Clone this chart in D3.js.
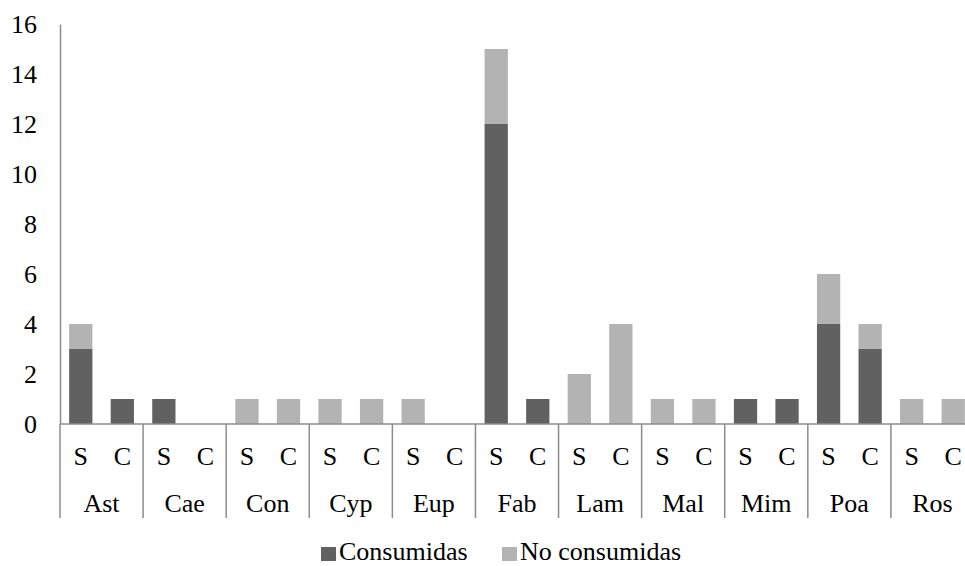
<!DOCTYPE html>
<html><head><meta charset="utf-8">
<script src="https://cdn.jsdelivr.net/npm/d3@7"></script>
<style>body{margin:0;background:#fff}svg{display:block}</style>
</head><body><svg id="c" width="965" height="566"></svg>
<script>
const families = ["Ast","Cae","Con","Cyp","Eup","Fab","Lam","Mal","Mim","Poa","Ros"];
const subs = ["S","C"];
const consumidasS = [3,1,0,0,0,12,0,0,1,4,0];
const consumidasC = [1,0,0,0,0,1,0,0,1,3,0];
const noConsumidasS = [1,0,1,1,1,3,2,1,0,2,1];
const noConsumidasC = [0,0,1,1,0,0,4,1,0,1,1];
const yTicks = [0,2,4,6,8,10,12,14,16];
const seriesNames = ["Consumidas","No consumidas"];
const colors = ["#616161","#b3b3b3"];

const FONT = "'Liberation Serif', 'Times New Roman', Tinos, serif";
const FS = 26;
const svg = d3.select("#c");
const mLeft = 60, mTop = 24, mBottom = 424, mRight = 974;
const y = d3.scaleLinear().domain([0,16]).range([mBottom, mTop]);
const x = d3.scaleBand().domain(families).range([mLeft, mRight]);
const xs = d3.scaleBand().domain(subs).range([0, x.bandwidth()]);
const barW = xs.bandwidth()*0.56;

const rows = [];
families.forEach((f,i)=>{
  rows.push({f, s:"S", v:[consumidasS[i], noConsumidasS[i]]});
  rows.push({f, s:"C", v:[consumidasC[i], noConsumidasC[i]]});
});

const g = svg.append("g");
rows.forEach(r=>{
  let base = 0;
  r.v.forEach((val,k)=>{
    if(val>0){
      const cx = x(r.f)+xs(r.s)+xs.bandwidth()/2;
      g.append("rect").attr("x", cx-barW/2).attr("width", barW)
        .attr("y", y(base+val)).attr("height", y(base)-y(base+val))
        .attr("fill", colors[k]);
    }
    base += val;
  });
});

const ya = svg.append("g").attr("transform",`translate(${mLeft},0)`)
  .call(d3.axisLeft(y).tickValues(yTicks).tickSize(0).tickPadding(23));
ya.attr("font-family", null).attr("font-size", null);
ya.selectAll("text").attr("fill","#000").style("font-family",FONT).style("font-size",FS+"px");
ya.select(".domain").attr("stroke","#8c8c8c").attr("stroke-width",1.5);

svg.append("line").attr("x1",mLeft).attr("x2",965).attr("y1",mBottom).attr("y2",mBottom)
  .attr("stroke","#8c8c8c").attr("stroke-width",1.5);
families.forEach(f=>{
  svg.append("line").attr("x1",x(f)).attr("x2",x(f)).attr("y1",mBottom).attr("y2",518)
    .attr("stroke","#8c8c8c").attr("stroke-width",1.5);
});
rows.forEach(r=>{
  svg.append("text").attr("x", x(r.f)+xs(r.s)+xs.bandwidth()/2).attr("y",465)
    .attr("text-anchor","middle").style("font-family",FONT).style("font-size",FS+"px").text(r.s);
});
families.forEach(f=>{
  svg.append("text").attr("x", x(f)+x.bandwidth()/2).attr("y",512)
    .attr("text-anchor","middle").style("font-family",FONT).style("font-size",FS+"px").text(f);
});
const legX = [321,502];
seriesNames.forEach((n,k)=>{
  svg.append("rect").attr("x",legX[k]).attr("y",547).attr("width",15).attr("height",14).attr("fill",colors[k]);
  svg.append("text").attr("x",legX[k]+18).attr("y",560)
    .style("font-family",FONT).style("font-size",FS+"px").text(n);
});
</script></body></html>
